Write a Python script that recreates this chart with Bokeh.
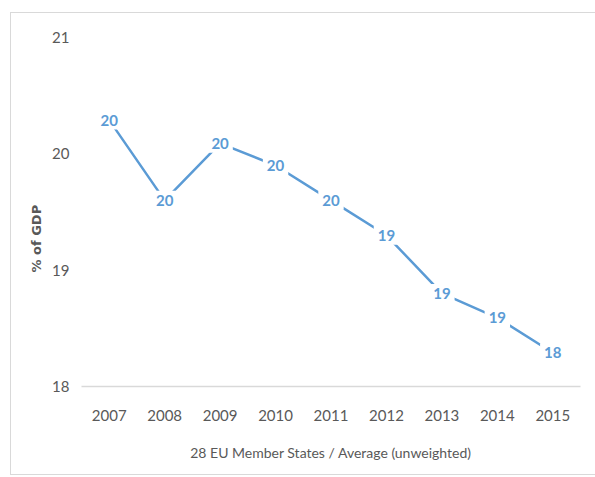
import math
from bokeh.plotting import figure
from bokeh.models import ColumnDataSource, FixedTicker, Title
from bokeh.core.properties import value
from bokeh.embed import file_html
from bokeh.resources import INLINE

years = ["2007", "2008", "2009", "2010", "2011", "2012", "2013", "2014", "2015"]
values = [20.29, 19.60, 20.09, 19.90, 19.60, 19.30, 18.80, 18.59, 18.29]
labels = [str(int(round(v))) for v in values]
y_ticks = [18, 19, 20, 21]

src = ColumnDataSource(dict(x=years, y=values, t=labels))

p = figure(x_range=years, y_range=(18, 21), width=586, height=463,
           output_backend="svg", toolbar_location=None,
           min_border_left=70, min_border_right=17, min_border_top=24, min_border_bottom=90,
           styles={"border": "1px solid #d9d9d9", "margin-left": "10px", "margin-top": "12px"})
p.outline_line_color = None
p.xgrid.grid_line_color = None
p.ygrid.grid_line_color = None

p.line(x="x", y="y", source=src, line_color="#5b9bd5", line_width=2.5)
p.text(x="x", y="y", text="t", source=src, text_align="center", text_baseline="middle",
       text_color="#5b9bd5", text_font=value("Lato"), text_font_style="bold",
       text_font_size="15px", background_fill_color="white", padding=4)

ax = p.xaxis[0]
ax.axis_line_color = "#d9d9d9"
ax.axis_line_width = 1.5
ax.major_tick_line_color = None
ax.minor_tick_line_color = None
ax.major_label_text_color = "#595959"
ax.major_label_text_font = "Lato"
ax.major_label_text_font_size = "15px"
ax.major_label_standoff = 17
ax.axis_label = "28 EU Member States / Average (unweighted)"
ax.axis_label_text_font = "Lato"
ax.axis_label_text_font_style = "normal"
ax.axis_label_text_font_size = "14px"
ax.axis_label_text_color = "#595959"
ax.axis_label_standoff = 20

ay = p.yaxis[0]
ay.ticker = FixedTicker(ticks=y_ticks)
ay.axis_line_color = None
ay.major_tick_line_color = None
ay.minor_tick_line_color = None
ay.major_label_text_color = "#595959"
ay.major_label_text_font = "Lato"
ay.major_label_text_font_size = "15px"
ay.major_label_standoff = 6

p.add_layout(Title(text="% of GDP", align="left", offset=114, standoff=12,
                   text_font="DejaVu Sans", text_font_style="bold",
                   text_font_size="13px", text_color="#595959"), "left")

open("out.html", "w").write(file_html(p, INLINE))
